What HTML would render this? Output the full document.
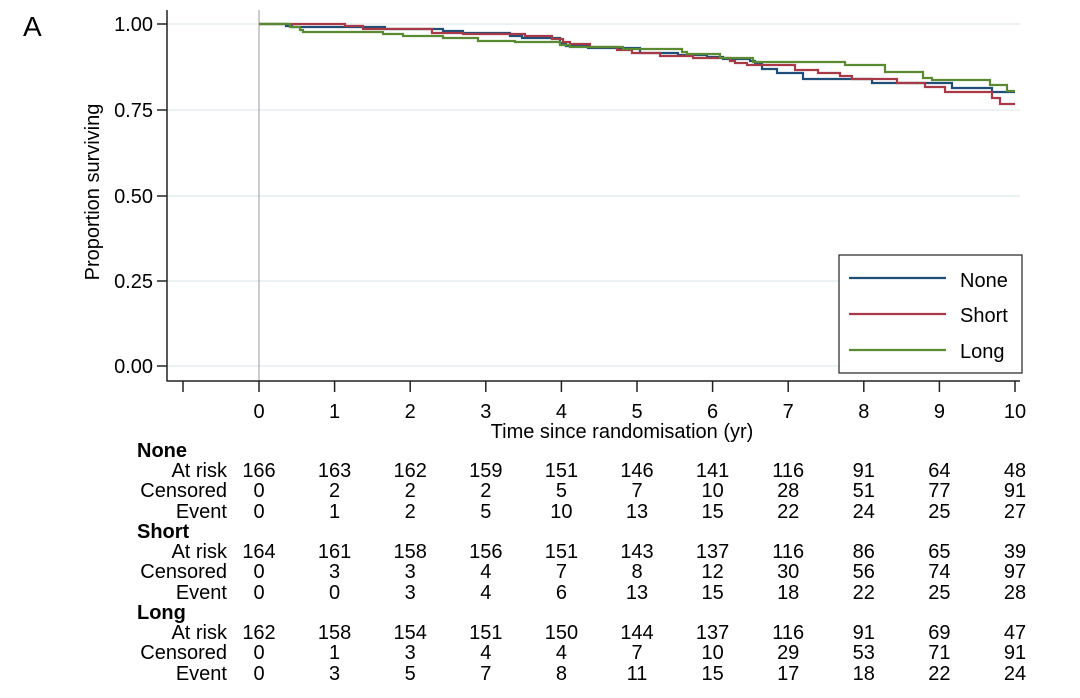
<!DOCTYPE html>
<html><head><meta charset="utf-8"><style>
html,body{margin:0;padding:0;background:#fff}
svg{display:block;font-family:"Liberation Sans",Arial,sans-serif}
</style></head><body>
<svg width="1080" height="698" viewBox="0 0 1080 698" xmlns="http://www.w3.org/2000/svg">
<text x="23" y="36" font-size="28" fill="#000">A</text>
<g stroke="#e6edf1" stroke-width="1.5">
<line x1="167" y1="24" x2="1020" y2="24"/>
<line x1="167" y1="110" x2="1020" y2="110"/>
<line x1="167" y1="196" x2="1020" y2="196"/>
<line x1="167" y1="281" x2="1020" y2="281"/>
<line x1="167" y1="366" x2="1020" y2="366"/>
</g>
<line x1="259" y1="10" x2="259" y2="381" stroke="#999" stroke-width="1"/>
<g stroke="#222" stroke-width="1.5" fill="none">
<line x1="167" y1="10" x2="167" y2="381.5"/>
<line x1="166.5" y1="381" x2="1020" y2="381"/>
<line x1="157" y1="24" x2="167" y2="24"/>
<line x1="157" y1="110" x2="167" y2="110"/>
<line x1="157" y1="196" x2="167" y2="196"/>
<line x1="157" y1="281" x2="167" y2="281"/>
<line x1="157" y1="366" x2="167" y2="366"/>
<line x1="183" y1="381" x2="183" y2="392"/>
<line x1="259" y1="381" x2="259" y2="392"/>
<line x1="334.6" y1="381" x2="334.6" y2="392"/>
<line x1="410.2" y1="381" x2="410.2" y2="392"/>
<line x1="485.8" y1="381" x2="485.8" y2="392"/>
<line x1="561.4" y1="381" x2="561.4" y2="392"/>
<line x1="637" y1="381" x2="637" y2="392"/>
<line x1="712.6" y1="381" x2="712.6" y2="392"/>
<line x1="788.2" y1="381" x2="788.2" y2="392"/>
<line x1="863.8" y1="381" x2="863.8" y2="392"/>
<line x1="939.4" y1="381" x2="939.4" y2="392"/>
<line x1="1015" y1="381" x2="1015" y2="392"/>
</g>
<g font-size="20" text-anchor="end" fill="#000">
<text x="153" y="31">1.00</text>
<text x="153" y="117">0.75</text>
<text x="153" y="203">0.50</text>
<text x="153" y="288">0.25</text>
<text x="153" y="373">0.00</text>
</g>
<text transform="translate(99,192) rotate(-90)" font-size="20" text-anchor="middle">Proportion surviving</text>
<g font-size="20" text-anchor="middle">
<text x="259" y="418">0</text><text x="334.6" y="418">1</text><text x="410.2" y="418">2</text><text x="485.8" y="418">3</text><text x="561.4" y="418">4</text><text x="637" y="418">5</text><text x="712.6" y="418">6</text><text x="788.2" y="418">7</text><text x="863.8" y="418">8</text><text x="939.4" y="418">9</text><text x="1015" y="418">10</text>
<text x="622" y="438">Time since randomisation (yr)</text>
</g>
<g fill="none" stroke-width="2.2">
<path stroke="#1f4e79" d="M259,24 H286 V26 H292 V27 H385 V29 H443 V31 H463 V33 H510 V36 H522 V38 H560 V43 H566 V46 H588 V48 H640 V53 H678 V55 H707 V57 H723 V59 H750 V61 H755 V63 H762 V69 H777 V73 H803 V79 H872 V83 H952 V88 H992 V92 H1015"/>
<path stroke="#a83a48" d="M259,24 H345 V26 H363 V29 H432 V33 H463 V34 H525 V36 H552 V39 H563 V42 H570 V44 H590 V47 H617 V50 H632 V53 H660 V56 H693 V58 H730 V61 H735 V63 H747 V65 H795 V70 H818 V73 H840 V76 H852 V79 H897 V83 H925 V87 H945 V92 H992 V98 H1000 V104 H1015"/>
<path stroke="#5a8a32" d="M259,24 H290 V27 H300 V30 H303 V32 H383 V34 H403 V36 H443 V38 H478 V41 H515 V42 H560 V45 H570 V47 H623 V49 H682 V52 H687 V54 H720 V58 H753 V62 H845 V65 H885 V72 H923 V78 H932 V80 H990 V85 H1007 V91 H1015"/>
</g>
<rect x="839" y="255" width="183" height="118" fill="#fff" stroke="#222" stroke-width="1.2"/>
<g stroke-width="2.2">
<line x1="849" y1="278" x2="946" y2="278" stroke="#1f4e79"/>
<line x1="849" y1="314" x2="946" y2="314" stroke="#a83a48"/>
<line x1="849" y1="350" x2="946" y2="350" stroke="#5a8a32"/>
</g>
<g font-size="20">
<text x="960" y="287">None</text>
<text x="960" y="322">Short</text>
<text x="960" y="358">Long</text>
</g>
<g font-size="20">
<text x="137" y="457" font-weight="bold">None</text>
<text x="137" y="538" font-weight="bold">Short</text>
<text x="137" y="619" font-weight="bold">Long</text>
</g>
<g font-size="20" text-anchor="end">
<text x="227" y="477">At risk</text><text x="227" y="497">Censored</text><text x="227" y="518">Event</text>
<text x="227" y="558">At risk</text><text x="227" y="578">Censored</text><text x="227" y="599">Event</text>
<text x="227" y="639">At risk</text><text x="227" y="659">Censored</text><text x="227" y="680">Event</text>
</g>
<g font-size="20" text-anchor="middle">
<g transform="translate(0,477)"><text x="259">166</text><text x="334.6">163</text><text x="410.2">162</text><text x="485.8">159</text><text x="561.4">151</text><text x="637">146</text><text x="712.6">141</text><text x="788.2">116</text><text x="863.8">91</text><text x="939.4">64</text><text x="1015">48</text></g>
<g transform="translate(0,497)"><text x="259">0</text><text x="334.6">2</text><text x="410.2">2</text><text x="485.8">2</text><text x="561.4">5</text><text x="637">7</text><text x="712.6">10</text><text x="788.2">28</text><text x="863.8">51</text><text x="939.4">77</text><text x="1015">91</text></g>
<g transform="translate(0,518)"><text x="259">0</text><text x="334.6">1</text><text x="410.2">2</text><text x="485.8">5</text><text x="561.4">10</text><text x="637">13</text><text x="712.6">15</text><text x="788.2">22</text><text x="863.8">24</text><text x="939.4">25</text><text x="1015">27</text></g>
<g transform="translate(0,558)"><text x="259">164</text><text x="334.6">161</text><text x="410.2">158</text><text x="485.8">156</text><text x="561.4">151</text><text x="637">143</text><text x="712.6">137</text><text x="788.2">116</text><text x="863.8">86</text><text x="939.4">65</text><text x="1015">39</text></g>
<g transform="translate(0,578)"><text x="259">0</text><text x="334.6">3</text><text x="410.2">3</text><text x="485.8">4</text><text x="561.4">7</text><text x="637">8</text><text x="712.6">12</text><text x="788.2">30</text><text x="863.8">56</text><text x="939.4">74</text><text x="1015">97</text></g>
<g transform="translate(0,599)"><text x="259">0</text><text x="334.6">0</text><text x="410.2">3</text><text x="485.8">4</text><text x="561.4">6</text><text x="637">13</text><text x="712.6">15</text><text x="788.2">18</text><text x="863.8">22</text><text x="939.4">25</text><text x="1015">28</text></g>
<g transform="translate(0,639)"><text x="259">162</text><text x="334.6">158</text><text x="410.2">154</text><text x="485.8">151</text><text x="561.4">150</text><text x="637">144</text><text x="712.6">137</text><text x="788.2">116</text><text x="863.8">91</text><text x="939.4">69</text><text x="1015">47</text></g>
<g transform="translate(0,659)"><text x="259">0</text><text x="334.6">1</text><text x="410.2">3</text><text x="485.8">4</text><text x="561.4">4</text><text x="637">7</text><text x="712.6">10</text><text x="788.2">29</text><text x="863.8">53</text><text x="939.4">71</text><text x="1015">91</text></g>
<g transform="translate(0,680)"><text x="259">0</text><text x="334.6">3</text><text x="410.2">5</text><text x="485.8">7</text><text x="561.4">8</text><text x="637">11</text><text x="712.6">15</text><text x="788.2">17</text><text x="863.8">18</text><text x="939.4">22</text><text x="1015">24</text></g>
</g>
</svg>
</body></html>
